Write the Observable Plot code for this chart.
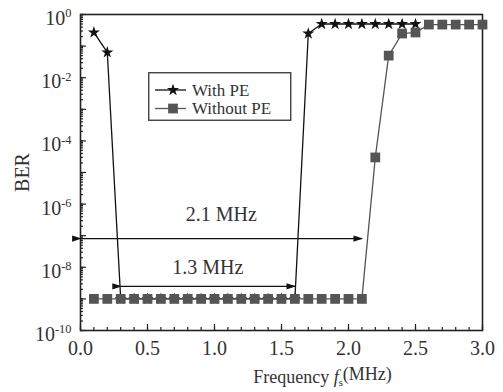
<!DOCTYPE html>
<html><head><meta charset="utf-8">
<script src="https://cdn.jsdelivr.net/npm/d3@7"></script>
<script src="https://cdn.jsdelivr.net/npm/@observablehq/plot@0.6"></script>
<style>
body{margin:0;background:#fff;}
#wrap{position:relative;width:503px;height:392px;}
#legend{position:absolute;left:148px;top:72px;}
</style></head><body><div id="wrap"></div>
<script>
// ---- data ----
const seriesNames = ["With PE", "Without PE"];
const freqWith = [0.1,0.2,0.3,0.4,0.5,0.6,0.7,0.8,0.9,1.0,1.1,1.2,1.3,1.4,1.5,1.6,1.7,1.8,1.9,2.0,2.1,2.2,2.3,2.4,2.5];
const berWith  = [0.27,0.063,1e-9,1e-9,1e-9,1e-9,1e-9,1e-9,1e-9,1e-9,1e-9,1e-9,1e-9,1e-9,1e-9,1e-9,0.25,0.5,0.5,0.5,0.5,0.5,0.5,0.5,0.5];
const freqWithout = [0.1,0.2,0.3,0.4,0.5,0.6,0.7,0.8,0.9,1.0,1.1,1.2,1.3,1.4,1.5,1.6,1.7,1.8,1.9,2.0,2.1,2.2,2.3,2.4,2.5,2.6,2.7,2.8,2.9,3.0];
const berWithout  = [1e-9,1e-9,1e-9,1e-9,1e-9,1e-9,1e-9,1e-9,1e-9,1e-9,1e-9,1e-9,1e-9,1e-9,1e-9,1e-9,1e-9,1e-9,1e-9,1e-9,1e-9,3e-5,0.05,0.25,0.27,0.48,0.48,0.48,0.48,0.48];
const xTicks = [0, 0.5, 1.0, 1.5, 2.0, 2.5, 3.0];
const yLabelTicks = [1e-10, 1e-8, 1e-6, 1e-4, 1e-2, 1];
const spanLabels = ["2.1 MHz", "1.3 MHz"];
const spanStart = [0, 0.3];
const spanEnd = [2.1, 1.6];
const spanBER = [8.1e-8, 2.5e-9];
const spanLabelBER = [4.7e-7, 1.0e-8];

// ---- derived tables ----
const withData = freqWith.map((f, i) => ({f, ber: berWith[i]}));
const withoutData = freqWithout.map((f, i) => ({f, ber: berWithout[i]}));
const spans = spanLabels.map((label, i) => ({label, x1: spanStart[i], x2: spanEnd[i], y: spanBER[i], ly: spanLabelBER[i]}));
const xMinor = d3.ticks(0, 3, 30);
const yAll = d3.scaleLog().domain([1e-10, 1]).ticks(20);
const yDecades = yAll.filter(v => Math.abs(Math.log10(v) - Math.round(Math.log10(v))) < 1e-9);

const W = 503, H = 392, mL = 80, mR = 21, mT = 14, mB = 62;
const frameW = W - mL - mR, frameH = H - mT - mB;
const dark = "#222";
const plot = Plot.plot({
  width: W, height: H,
  marginLeft: mL, marginRight: mR, marginTop: mT, marginBottom: mB,
  style: {fontFamily: "'Liberation Serif', 'Times New Roman', serif", fontSize: "20px", color: "#333", background: "#fff", overflow: "visible"},
  x: {domain: [0, 3], label: null},
  y: {type: "log", domain: [1e-10, 1], label: null},
  marks: [
    // inward ticks along the bottom and left edges
    Plot.tickX(xMinor, {x: d => d, stroke: dark, strokeWidth: 1.2, insetTop: frameH - 3}),
    Plot.tickX(xTicks, {x: d => d, stroke: dark, strokeWidth: 1.2, insetTop: frameH - 6}),
    Plot.tickY(yAll, {y: d => d, stroke: dark, strokeWidth: 1.2, insetRight: frameW - 3}),
    Plot.tickY(yDecades, {y: d => d, stroke: dark, strokeWidth: 1.2, insetRight: frameW - 6}),
    Plot.axisX({ticks: xTicks, tickSize: 0, tickPadding: 10, tickFormat: d => d.toFixed(1), label: "Frequency fs(MHz)", labelAnchor: "center", labelOffset: 52, labelArrow: false}),
    Plot.axisY({ticks: yLabelTicks, tickSize: 0, tickPadding: 9, dy: 4, tickFormat: d => `10^${Math.round(Math.log10(d))}`, label: "BER", labelAnchor: "center", labelOffset: 66, labelArrow: false}),
    Plot.frame({stroke: dark, strokeWidth: 1.6}),
    Plot.link(spans, {x1: "x1", x2: "x2", y1: "y", y2: "y", stroke: "#111", strokeWidth: 1.2, markerStart: "arrow", markerEnd: "arrow"}),
    Plot.text(spans, {x: d => (d.x1 + d.x2) / 2, y: "ly", text: "label", fill: "#333", fontSize: 20}),
    Plot.line(withData, {x: "f", y: "ber", stroke: "#111", strokeWidth: 1.3}),
    Plot.dot(withData, {x: "f", y: "ber", symbol: "star", fill: "#111", stroke: "none", r: 3.8}),
    Plot.line(withoutData, {x: "f", y: "ber", stroke: "#555", strokeWidth: 1.3}),
    Plot.dot(withoutData, {x: "f", y: "ber", symbol: "square", fill: "#555", stroke: "none", r: 5.5})
  ]
});

// superscript exponents on the y tick labels
d3.select(plot).selectAll('g[aria-label="y-axis tick label"] text').each(function() {
  const t = this.textContent;
  const m = t.match(/^10\^(-?\d+)$/);
  if (!m) return;
  const sel = d3.select(this);
  sel.text("");
  sel.append("tspan").text("10");
  sel.append("tspan").attr("dy", "-0.6em").attr("font-size", "0.62em").text(m[1]);
});
// italic f with subscript s in the x label
const xl = d3.select(plot).select('g[aria-label="x-axis label"]');
xl.selectAll("text").each(function() {
  const sel = d3.select(this);
  sel.text("");
  sel.append("tspan").text("Frequency ");
  sel.append("tspan").attr("font-style", "italic").text("f");
  sel.append("tspan").attr("dy", "0.3em").attr("font-size", "0.6em").text("s");
  sel.append("tspan").attr("dy", "-0.3em").text("(MHz)");
}).attr("font-size", 18);
xl.attr("transform", `${xl.attr("transform") || ""} translate(41,0)`);
// filled arrowheads
d3.select(plot).selectAll("marker").each(function() {
  const mk = d3.select(this);
  mk.attr("viewBox", "-10 -5 15 10").attr("markerWidth", 15).attr("markerHeight", 10)
    .attr("fill", "#111").attr("stroke", "none");
  mk.selectAll("path").attr("d", "M-7,-2.6L1,0L-7,2.6Z");
});

const wrap = document.getElementById("wrap");
wrap.appendChild(plot);

// legend (inside the plot frame, like the reference)
const lg = d3.select(wrap).append("svg").attr("id", "legend").attr("width", 144).attr("height", 50)
  .style("font-family", "'Liberation Serif', 'Times New Roman', serif");
lg.append("rect").attr("x", 0.75).attr("y", 0.75).attr("width", 142).attr("height", 47.5)
  .attr("fill", "#fff").attr("stroke", "#333").attr("stroke-width", 1.3);
const legendItems = [
  {name: seriesNames[0], color: "#111", symbol: d3.symbolStar, r: 3.8},
  {name: seriesNames[1], color: "#555", symbol: d3.symbolSquare, r: 5.5}
];
legendItems.forEach((it, i) => {
  const y = 18 + i * 18.5;
  lg.append("line").attr("x1", 7).attr("x2", 38).attr("y1", y).attr("y2", y).attr("stroke", it.color).attr("stroke-width", 1.3);
  lg.append("path").attr("transform", `translate(25,${y})`).attr("d", d3.symbol(it.symbol, Math.PI * it.r * it.r)()).attr("fill", it.color);
  lg.append("text").attr("x", 44).attr("y", y + 5.5).attr("font-size", 17).attr("fill", "#333").text(it.name);
});
</script>
</body></html>
